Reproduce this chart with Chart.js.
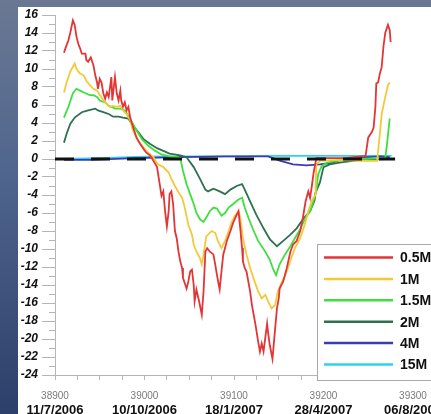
<!DOCTYPE html>
<html>
<head>
    <title>Chart</title>
    <script src="https://cdn.jsdelivr.net/npm/chart.js"></script>
    <style>
        html, body { margin: 0; width: 431px; height: 414px; overflow: hidden; }
        body { position: relative; background: linear-gradient(to bottom, #6a7893 0%, #51668e 40%, #2c3f6a 100%); }
        .panel { position: absolute; left: 18px; top: 7px; width: 470px; height: 420px; background: #fff; }
        canvas { display: block; }
    </style>
</head>
<body>
    <div class="panel"><canvas id="c" width="470" height="420"></canvas></div>

    <script>
        const seriesLabels = ['0.5M', '1M', '1.5M', '2M', '4M', '15M'];
        const seriesColors = ['#e33535', '#f3c93c', '#3ee03e', '#2e7050', '#3b3bb3', '#2cd3ec'];

        const dateTickValues = [38900, 39000, 39100, 39200, 39300];
        const dateTickLabels = ['11/7/2006', '10/10/2006', '18/1/2007', '28/4/2007', '06/8/2007'];

        const s05M = [
            [38910,11.8],[38912,12.4],[38915,13.2],[38917,14.0],[38920,15.4],[38922,14.9],[38924,13.6],[38926,12.8],
            [38928,12.3],[38930,11.7],[38934,11.7],[38935,11.0],[38937,10.8],[38940,11.3],[38943,10.4],[38945,9.3],
            [38947,8.5],[38948,7.8],[38950,8.9],[38952,8.5],[38954,7.3],[38956,6.7],[38958,7.4],[38960,6.9],
            [38963,9.1],[38964,6.5],[38967,9.1],[38969,7.3],[38971,6.5],[38973,7.6],[38974,6.5],[38976,5.8],
            [38978,6.3],[38980,5.4],[38982,5.8],[38984,4.6],[38988,3.3],[38991,2.4],[38995,1.7],[38999,1.1],
            [39002,0.7],[39006,0.4],[39010,-0.2],[39014,-0.9],[39017,-2.8],[39019,-4.1],[39021,-3.6],[39023,-5.8],
            [39025,-7.5],[39027,-5.8],[39028,-3.9],[39030,-3.6],[39032,-5.0],[39034,-8.0],[39036,-8.8],[39038,-10.3],
            [39040,-11.4],[39042,-12.1],[39043,-13.2],[39045,-13.8],[39047,-14.4],[39049,-13.6],[39051,-12.5],[39053,-12.3],
            [39055,-14.0],[39056,-15.8],[39058,-14.5],[39061,-15.8],[39064,-17.3],[39066,-14.7],[39068,-10.3],[39070,-9.9],
            [39073,-10.3],[39077,-10.6],[39079,-11.7],[39081,-12.9],[39083,-14.0],[39084,-14.5],[39086,-12.5],[39088,-10.6],
            [39090,-9.9],[39092,-9.1],[39096,-8.0],[39099,-7.1],[39103,-6.2],[39105,-5.8],[39107,-7.7],[39109,-9.9],
            [39110,-11.4],[39112,-12.1],[39114,-12.5],[39118,-14.7],[39120,-16.2],[39124,-18.4],[39127,-20.3],[39129,-21.4],
            [39131,-20.5],[39133,-21.4],[39137,-18.3],[39138,-19.2],[39140,-20.7],[39143,-22.2],[39146,-18.8],[39148,-16.6],
            [39150,-15.5],[39151,-14.4],[39155,-13.6],[39159,-12.1],[39163,-10.3],[39166,-9.5],[39170,-9.1],[39174,-8.0],
            [39177,-6.5],[39180,-4.7],[39183,-3.6],[39185,-4.3],[39187,-3.0],[39189,-1.5],[39192,0.1],[39202,0.1],
            [39224,0.1],[39247,0.35],[39250,2.4],[39254,3.0],[39256,3.5],[39258,5.8],[39259,8.4],[39261,8.5],
            [39263,9.5],[39265,10.2],[39267,12.5],[39269,14.0],[39272,14.9],[39274,14.3],[39275,13.0]
        ];
        const s1M = [
            [38910,7.4],[38913,8.5],[38917,9.7],[38922,10.6],[38924,10.0],[38928,9.5],[38932,9.3],[38935,8.7],
            [38939,8.2],[38943,7.8],[38947,7.6],[38950,7.1],[38954,6.5],[38958,6.1],[38961,5.8],[38965,5.9],
            [38969,5.8],[38973,5.9],[38976,5.4],[38980,5.0],[38984,4.3],[38987,3.2],[38993,2.0],[38999,1.3],
            [39004,0.7],[39010,0.2],[39015,-0.6],[39021,-0.9],[39027,-1.5],[39030,-2.2],[39034,-3.0],[39038,-3.7],
            [39042,-4.3],[39045,-5.4],[39049,-7.3],[39053,-8.4],[39055,-9.5],[39058,-10.3],[39062,-11.0],[39064,-11.7],
            [39066,-10.6],[39069,-8.6],[39075,-8.0],[39079,-8.2],[39082,-9.1],[39086,-9.9],[39090,-9.1],[39094,-8.0],
            [39097,-7.1],[39101,-6.3],[39105,-5.8],[39107,-6.5],[39110,-8.8],[39114,-10.6],[39118,-12.1],[39123,-13.6],
            [39127,-14.7],[39131,-15.5],[39135,-15.1],[39138,-15.8],[39142,-16.6],[39146,-16.2],[39149,-14.7],[39153,-13.8],
            [39159,-12.5],[39164,-11.0],[39168,-9.9],[39174,-8.8],[39179,-7.3],[39183,-5.8],[39187,-4.6],[39191,-4.0],
            [39192,-0.6],[39196,-0.2],[39218,-0.1],[39241,-0.2],[39260,-0.2],[39261,0.9],[39263,2.8],[39265,5.0],
            [39269,6.9],[39272,8.2],[39274,8.5]
        ];
        const s15M = [
            [38910,4.6],[38915,5.8],[38920,7.3],[38924,7.8],[38928,7.6],[38934,7.3],[38939,7.1],[38943,7.1],
            [38947,6.9],[38950,6.5],[38956,6.3],[38960,5.9],[38963,5.8],[38967,5.6],[38973,5.6],[38978,5.4],
            [38982,4.8],[38986,4.1],[38991,3.2],[38997,2.2],[39004,1.5],[39012,0.9],[39019,0.5],[39028,0.3],
            [39037,0.2],[39040,0.1],[39043,-1.3],[39047,-2.8],[39051,-3.9],[39055,-5.0],[39058,-6.0],[39062,-6.7],
            [39066,-7.0],[39069,-6.5],[39073,-5.8],[39077,-5.4],[39081,-5.5],[39086,-6.3],[39090,-6.0],[39094,-5.4],
            [39099,-5.0],[39105,-4.5],[39109,-4.3],[39112,-5.4],[39116,-6.5],[39122,-8.0],[39127,-9.1],[39135,-10.3],
            [39140,-11.2],[39144,-12.3],[39147,-12.9],[39151,-11.7],[39157,-10.6],[39163,-9.7],[39168,-8.8],[39174,-7.8],
            [39179,-6.7],[39185,-5.8],[39189,-4.6],[39192,-3.5],[39194,-1.7],[39198,-0.8],[39204,-0.4],[39215,-0.2],
            [39241,0.0],[39269,0.1],[39271,1.7],[39274,4.5]
        ];
        const s2M = [
            [38910,1.8],[38913,2.8],[38917,3.9],[38922,4.6],[38930,5.2],[38937,5.4],[38945,5.6],[38948,5.4],
            [38954,5.2],[38960,5.0],[38965,4.7],[38971,4.7],[38976,4.6],[38982,4.5],[38987,3.7],[38993,3.0],
            [38999,2.2],[39006,1.7],[39014,1.2],[39021,0.9],[39028,0.6],[39040,0.4],[39047,0.2],[39055,-0.9],
            [39062,-2.2],[39068,-3.4],[39071,-3.6],[39077,-3.3],[39084,-3.6],[39090,-3.9],[39096,-3.4],[39103,-3.0],
            [39109,-2.8],[39112,-3.4],[39118,-4.7],[39125,-6.2],[39133,-7.7],[39140,-8.9],[39148,-9.7],[39155,-9.1],
            [39163,-8.4],[39170,-7.7],[39177,-6.7],[39185,-5.8],[39190,-4.6],[39191,-3.8],[39196,-2.6],[39200,-0.9],
            [39207,-0.6],[39218,-0.4],[39241,-0.1],[39269,0.0]
        ];
        const s4M = [
            [38910,-0.1],[38940,-0.1],[38990,0.1],[39040,0.2],[39090,0.3],[39138,0.3],[39152,-0.2],[39166,-0.6],
            [39181,-0.7],[39196,-0.6],[39211,-0.4],[39218,-0.1],[39230,0.0],[39249,0.2],[39263,0.3],[39274,0.2]
        ];
        const s15Mb = [
            [38910,0.0],[38950,0.1],[39000,0.25],[39050,0.3],[39100,0.3],[39150,0.35],[39200,0.35],[39250,0.35],[39276,0.35]
        ];
        const zeroLine = [[38900,0],[39280,0]];

        const seriesData = [s05M, s1M, s15M, s2M, s4M, s15Mb];

        const toXY = arr => arr.map(p => ({ x: p[0], y: p[1] }));

        const datasets = seriesData.map((d, i) => ({
            label: seriesLabels[i],
            data: toXY(d),
            borderColor: seriesColors[i],
            borderWidth: 1.8,
            pointRadius: 0,
            tension: 0,
            fill: false,
            order: 1
        }));
        // black dashed zero line, drawn over the series
        datasets.push({
            label: 'zero',
            data: toXY(zeroLine),
            borderColor: '#111',
            borderWidth: 3,
            borderDash: [19, 17],
            pointRadius: 0,
            fill: false,
            order: 0
        });

        // odd-numbered minor ticks on the y axis
        const minorTicks = {
            id: 'minorTicks',
            afterDraw(chart) {
                const y = chart.scales.y, ctx = chart.ctx, left = chart.chartArea.left;
                ctx.save();
                ctx.strokeStyle = '#b5b5b5';
                ctx.lineWidth = 1;
                for (let v = y.min + 1; v < y.max; v += 2) {
                    const py = Math.round(y.getPixelForValue(v)) + 0.5;
                    ctx.beginPath();
                    ctx.moveTo(left - 6, py);
                    ctx.lineTo(left, py);
                    ctx.stroke();
                }
                ctx.restore();
            }
        };

        // boxed legend sitting inside the plot
        const boxLegend = {
            id: 'boxLegend',
            afterDraw(chart) {
                const ctx = chart.ctx;
                const bx = 299.5, by = 237.5, bw = 150, bh = 136;
                ctx.save();
                ctx.fillStyle = '#fff';
                ctx.fillRect(bx, by, bw, bh);
                ctx.strokeStyle = '#a8a8a8';
                ctx.lineWidth = 1;
                ctx.strokeRect(bx, by, bw, bh);
                ctx.font = 'bold 14px "Liberation Sans", Arial, sans-serif';
                ctx.textBaseline = 'middle';
                chart.data.datasets.forEach((ds, i) => {
                    if (ds.label === 'zero') return;
                    const ry = 250.5 + i * 21.4;
                    ctx.strokeStyle = ds.borderColor;
                    ctx.lineWidth = 2.5;
                    ctx.beginPath();
                    ctx.moveTo(306, ry);
                    ctx.lineTo(375, ry);
                    ctx.stroke();
                    ctx.fillStyle = '#111';
                    ctx.fillText(ds.label, 382, ry + 1);
                });
                ctx.restore();
            }
        };

        new Chart(document.getElementById('c'), {
            type: 'line',
            data: { datasets },
            plugins: [minorTicks, boxLegend],
            options: {
                responsive: false,
                animation: false,
                layout: { padding: { top: 8, right: 75, bottom: 4, left: 0 } },
                plugins: { legend: { display: false }, tooltip: { enabled: false } },
                scales: {
                    x: {
                        type: 'linear',
                        min: 38900,
                        max: 39300,
                        afterFit: s => { s.height = 28; },
                        ticks: {
                            stepSize: 25,
                            autoSkip: false,
                            maxRotation: 0,
                            padding: 10,
                            color: '#7a7a7a',
                            font: { family: '"Liberation Sans", Arial, sans-serif', size: 10 },
                            callback: v => (v % 100 === 0 ? String(v) : '')
                        },
                        grid: { drawOnChartArea: false, tickLength: 5, tickColor: '#b5b5b5' },
                        border: { color: '#b5b5b5' }
                    },
                    x2: {
                        type: 'linear',
                        position: 'bottom',
                        weight: 1,
                        min: 38900,
                        max: 39300,
                        afterFit: s => { s.height = 20; },
                        ticks: {
                            stepSize: 100,
                            autoSkip: false,
                            maxRotation: 0,
                            padding: 0,
                            color: '#111',
                            font: { family: '"Liberation Sans", Arial, sans-serif', size: 13, weight: 'bold' },
                            callback: v => {
                                const i = dateTickValues.indexOf(v);
                                return i >= 0 ? dateTickLabels[i] : '';
                            }
                        },
                        grid: { display: false, drawTicks: false },
                        border: { display: false }
                    },
                    y: {
                        min: -24,
                        max: 16,
                        afterFit: s => { s.width = 37; },
                        ticks: {
                            stepSize: 2,
                            padding: 4,
                            color: '#111',
                            font: { family: '"Liberation Sans", Arial, sans-serif', size: 12, weight: 'bold', style: 'italic', lineHeight: 0.6 }
                        },
                        grid: { drawOnChartArea: false, tickLength: 13, tickColor: '#b5b5b5' },
                        border: { color: '#b5b5b5' }
                    }
                }
            }
        });
    </script>
</body>
</html>
